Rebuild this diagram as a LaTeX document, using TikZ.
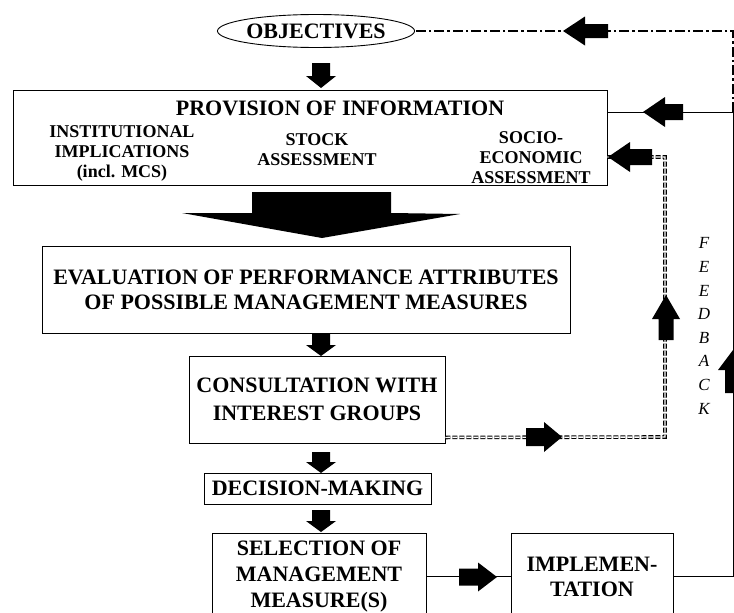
\documentclass[tikz,border=0pt]{standalone}
\usepackage{fontspec}
\setmainfont{Liberation Serif}
\usetikzlibrary{shapes.geometric,calc}
\begin{document}
\begin{tikzpicture}[x=1pt,y=-1pt,
  box/.style={draw, line width=0.9pt, inner sep=0pt, align=center, font=\bfseries\fontsize{22}{25}\selectfont},
  sub/.style={inner sep=0pt, align=center, font=\bfseries\fontsize{18}{20}\selectfont},
  conn/.style={line width=1pt},
  dd/.style={line width=1.1pt, double, double distance=1.4pt, dash pattern=on 5pt off 2pt},
  dashdot/.style={line width=1.1pt, dash pattern=on 10pt off 3pt on 2.5pt off 3pt},
  pics/blk/.style args={#1/#2/#3/#4}{code={\fill (0,-#3) -- ({#1-#2},-#3) -- ({#1-#2},-#4) -- (#1,0) -- ({#1-#2},#4) -- ({#1-#2},#3) -- (0,#3) -- cycle;}}
]
\useasboundingbox (0,0) rectangle (734,613);
\fill[white] (0,0) rectangle (734,613);

% nodes
\node[box, ellipse, minimum width=188pt, minimum height=33pt] (obj) at (316,31) {OBJECTIVES};
\node[draw, line width=0.9pt, minimum width=594pt, minimum height=95pt, inner sep=0pt] (prov) at (310,137.5) {};
\node[box, draw=none] (provt) at (340,108) {PROVISION OF INFORMATION};
\node[sub] (inst) at (122,153) {INSTITUTIONAL\\IMPLICATIONS\\(incl. MCS)};
\node[sub] (stock) at (317,150) {STOCK\\ASSESSMENT};
\node[sub] (socio) at (531,157.5) {SOCIO-\\ECONOMIC\\ASSESSMENT};

\node[box, minimum width=528pt, minimum height=87pt] (eval) at (306,289.5) {EVALUATION OF PERFORMANCE ATTRIBUTES\\OF POSSIBLE MANAGEMENT MEASURES};
\node[box, minimum width=256pt, minimum height=87pt, font=\bfseries\fontsize{22}{28}\selectfont] (cons) at (317,399.5) {CONSULTATION WITH\\INTEREST GROUPS};
\node[box, minimum width=227pt, minimum height=31pt] (dec) at (317.5,488.5) {DECISION-MAKING};
\node[box, minimum width=214pt, minimum height=87pt, font=\bfseries\fontsize{22}{26}\selectfont] (sel) at (319,576.5) {SELECTION OF\\MANAGEMENT\\MEASURE(S)};
\node[box, minimum width=162pt, minimum height=87pt] (impl) at (592,576.5) {IMPLEMEN-\\TATION};

\node[inner sep=0pt, align=center, font=\itshape\fontsize{17}{23.6}\selectfont] (fb) at (704,326) {F\\E\\E\\D\\B\\A\\C\\K};

% big arrow
\fill (252,192) -- (391,192) -- (391,213) -- (460,214) -- (322,238) -- (182,213) -- (252,213) -- cycle;

% connectors
\coordinate (fbmid) at (733,112);
\coordinate (ddc) at (665,437);
\coordinate (ddtop) at (665,157);
\draw[conn] (impl.east) -| (fbmid) -- (fbmid -| prov.east);
\draw[dashdot] (fbmid) |- (obj.east);
\draw[conn] (sel.east) -- (impl.west);
\draw[dd] ($(cons.south east)+(0,-6)$) -- (ddc) -- (ddtop) -- (ddtop -| prov.east);

% block arrows
\pic[rotate=180] at (608,31) {blk=45/22/7/14.5};
\pic[rotate=180] at (683,112) {blk=40/22/8/15};
\pic[rotate=180] at (652,157) {blk=44/22/8/15};
\pic[rotate=90] at (733,393) {blk=43/20/8/15};
\pic[rotate=90] at (666,340) {blk=45/24/7.5/14};
\pic at (526,437) {blk=36/18/9/15};
\pic at (459,577) {blk=38/19/8.5/14.5};
\pic[rotate=-90] at (321,63) {blk=25/12/9/15};
\pic[rotate=-90] at (321,334) {blk=22/11/9/15};
\pic[rotate=-90] at (321,452) {blk=21/11/9/15};
\pic[rotate=-90] at (321,510) {blk=22/11/9/15};
\end{tikzpicture}
\end{document}
